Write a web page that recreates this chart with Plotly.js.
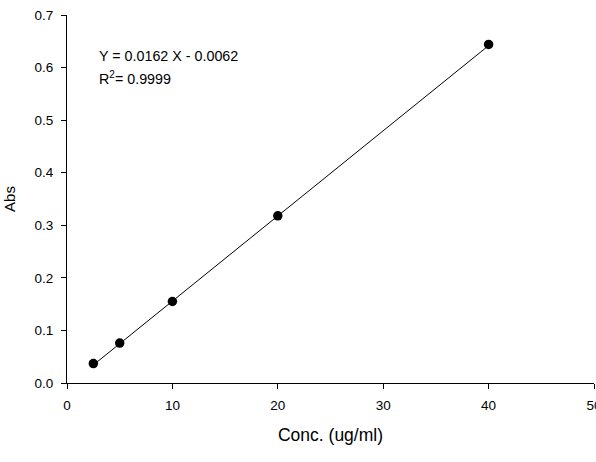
<!DOCTYPE html>
<html>
<head>
<meta charset="utf-8">
<script src="https://cdn.plot.ly/plotly-3.0.1.min.js"></script>
<style>html,body{margin:0;padding:0;background:#fff;overflow:hidden;}#chart{width:596px;height:462px;}</style>
</head>
<body>
<div id="chart"></div>
<script>
const conc = [2.5, 5, 10, 20, 40];
const abs = [0.037, 0.076, 0.155, 0.318, 0.644];
const fitX = [2.5, 40];
const fitY = [0.0343, 0.6418];
const xTicks = [0, 10, 20, 30, 40, 50];
const yTicks = [0.0, 0.1, 0.2, 0.3, 0.4, 0.5, 0.6, 0.7];
const eqText = 'Y = 0.0162 X - 0.0062';
const r2Text = 'R<sup>2</sup>= 0.9999';

const font = 'Liberation Sans, Arial, sans-serif';
const data = [
  {x: fitX, y: fitY, mode: 'lines', line: {color: '#000', width: 1}, hoverinfo: 'skip'},
  {x: conc, y: abs, mode: 'markers', marker: {color: '#000', size: 9.5}}
];
const layout = {
  width: 596, height: 462,
  margin: {l: 67, r: 2, t: 14.5, b: 79},
  paper_bgcolor: '#fff', plot_bgcolor: '#fff',
  showlegend: false,
  font: {family: font, color: '#000', size: 13.5},
  xaxis: {
    range: [0, 50], tickvals: xTicks, ticktext: xTicks.map(String),
    showgrid: false, zeroline: false, showline: true, linecolor: '#000', linewidth: 1,
    ticks: 'outside', ticklen: 5, tickcolor: '#000', ticklabelstandoff: 5,
    ticklabeloverflow: 'allow',
    title: {text: 'Conc. (ug/ml)', font: {size: 17.5}, standoff: 16}
  },
  yaxis: {
    range: [0, 0.7], tickvals: yTicks, ticktext: yTicks.map(v => v.toFixed(1)),
    showgrid: false, zeroline: false, showline: true, linecolor: '#000', linewidth: 1,
    ticks: 'outside', ticklen: 5, tickcolor: '#000', ticklabelstandoff: 5,
    title: {text: 'Abs', font: {size: 15}, standoff: 15}
  },
  annotations: [
    {x: 2.85, y: 0.622, xref: 'x', yref: 'y', text: eqText, showarrow: false, xanchor: 'left', yanchor: 'middle', font: {size: 14.3}},
    {x: 2.85, y: 0.581, xref: 'x', yref: 'y', text: r2Text, showarrow: false, xanchor: 'left', yanchor: 'middle', font: {size: 14.3}}
  ]
};
Plotly.newPlot('chart', data, layout, {displayModeBar: false, staticPlot: true});
</script>
</body>
</html>
